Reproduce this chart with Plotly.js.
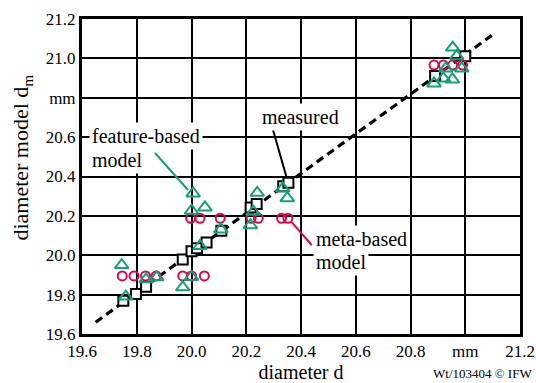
<!DOCTYPE html>
<html>
<head>
<meta charset="utf-8">
<script src="https://cdn.plot.ly/plotly-3.0.1.min.js"></script>
<style>html,body{margin:0;padding:0;background:#fff;}#chart{width:536px;height:383px;}</style>
</head>
<body>
<div id="chart"></div>
<script>
// reference line (ideal d_m = d)
const lineX = [19.65, 21.1];
const lineY = [19.66, 21.12];

// measured (open squares)
const measuredX = [19.751, 19.797, 19.834, 19.968, 20.0, 20.02, 20.055, 20.109, 20.216, 20.238, 20.335, 20.354, 20.89, 21.0];
const measuredY = [19.769, 19.803, 19.84, 19.979, 20.02, 20.035, 20.065, 20.124, 20.243, 20.26, 20.351, 20.368, 20.91, 21.011];

// meta-based model (open circles)
const metaX = [19.747, 19.79, 19.832, 19.871, 19.968, 20.0, 20.047, 19.997, 20.031, 20.105, 20.218, 20.244, 20.329, 20.352, 20.886, 20.92, 20.954, 20.99];
const metaY = [19.895, 19.895, 19.895, 19.895, 19.895, 19.895, 19.895, 20.188, 20.188, 20.188, 20.188, 20.188, 20.188, 20.188, 20.966, 20.966, 20.966, 20.966];

// feature-based model (open triangles)
const featX = [19.745, 19.76, 19.834, 19.873, 19.968, 20.0, 20.0, 20.006, 20.049, 20.031, 20.107, 20.215, 20.226, 20.24, 20.333, 20.35, 20.954, 20.969, 20.929, 20.987, 20.92, 20.953, 20.886];
const featY = [19.95, 19.79, 19.878, 19.888, 19.837, 19.89, 20.226, 20.314, 20.243, 20.047, 20.131, 20.153, 20.221, 20.317, 20.34, 20.29, 21.055, 21.011, 20.949, 20.949, 20.898, 20.893, 20.873];

// axis ticks
const xTickVals = [19.6, 19.8, 20.0, 20.2, 20.4, 20.6, 20.8, 21.0, 21.2];
const xTickText = ['19.6', '19.8', '20.0', '20.2', '20.4', '20.6', '20.8', 'mm', '21.2'];
const yTickVals = [19.6, 19.8, 20.0, 20.2, 20.4, 20.6, 20.8, 21.0, 21.2];
const yTickText = ['19.6', '19.8', '20.0', '20.2', '20.4', '20.6', 'mm', '21.0', '21.2'];

const RED = '#e3004f';
const GREEN = '#12a07a';
const FONT = '"Liberation Serif", "Times New Roman", serif';

const traces = [
  {x: lineX, y: lineY, type: 'scatter', mode: 'lines', name: 'ideal',
   line: {color: '#000', width: 3.2, dash: '8px,5px'}, hoverinfo: 'skip'},
  {x: measuredX, y: measuredY, type: 'scatter', mode: 'markers', name: 'measured',
   marker: {symbol: 'square', size: 10, color: '#fff', line: {color: '#000', width: 2}}},
  {x: metaX, y: metaY, type: 'scatter', mode: 'markers', name: 'meta-based model',
   marker: {symbol: 'circle-open', size: 9, color: RED, line: {color: RED, width: 2}}},
  {x: featX, y: featY, type: 'scatter', mode: 'markers', name: 'feature-based model',
   marker: {symbol: 'triangle-up-open', size: 12, color: GREEN, line: {color: GREEN, width: 2}}}
];

const axisCommon = {
  range: [19.6, 21.2], showgrid: true, gridcolor: '#000', gridwidth: 2,
  zeroline: false, showline: true, linecolor: '#000', linewidth: 3, mirror: true,
  ticks: '', tickfont: {family: FONT, size: 17, color: '#000'}, tickmode: 'array'
};

function label(text, x, y, anchor) {
  return {xref: 'paper', yref: 'paper', x: x, y: y, xanchor: anchor, yanchor: 'middle',
    text: text, showarrow: false, bgcolor: '#fff', borderpad: 2,
    font: {family: FONT, size: 20, color: '#000'}};
}
function leader(x0, y0, x1, y1, color) {
  return {type: 'line', xref: 'paper', yref: 'paper', x0: x0, y0: y0, x1: x1, y1: y1,
    line: {color: color, width: 2}, layer: 'above'};
}

const layout = {
  width: 536, height: 383,
  margin: {l: 82, r: 16, t: 19, b: 49},
  paper_bgcolor: '#fff', plot_bgcolor: '#fff',
  showlegend: false,
  font: {family: FONT, color: '#000'},
  xaxis: Object.assign({}, axisCommon, {
    tickvals: xTickVals, ticktext: xTickText,
    title: {text: 'diameter d', font: {family: FONT, size: 20, color: '#000'}, standoff: 5}
  }),
  yaxis: Object.assign({}, axisCommon, {
    tickvals: yTickVals, ticktext: yTickText
  }),
  shapes: [
    leader(0.1667, 0.5746, 0.2420, 0.4571, GREEN),
    leader(0.4361, 0.6476, 0.4669, 0.4984, '#000'),
    leader(0.4785, 0.3552, 0.5244, 0.2825, RED)
  ],
  annotations: [
    {xref: 'paper', yref: 'paper', x: -0.137, y: 0.56, xanchor: 'center', yanchor: 'middle',
     text: 'diameter model d<sub>m</sub>', textangle: -90, showarrow: false,
     font: {family: FONT, size: 22, color: '#000'}},
    label('feature-based', 0.016, 0.6286, 'left'),
    label('model', 0.016, 0.5524, 'left'),
    label('measured', 0.498, 0.689, 'center'),
    label('meta-based', 0.527, 0.3016, 'left'),
    label('model', 0.527, 0.2286, 'left'),
    {xref: 'paper', yref: 'paper', x: 1.032, y: -0.124, xanchor: 'right', yanchor: 'middle',
     text: 'Wt/103404 © IFW', showarrow: false,
     font: {family: FONT, size: 13, color: '#000'}}
  ]
};

Plotly.newPlot('chart', traces, layout, {staticPlot: true, displayModeBar: false});
</script>
</body>
</html>
